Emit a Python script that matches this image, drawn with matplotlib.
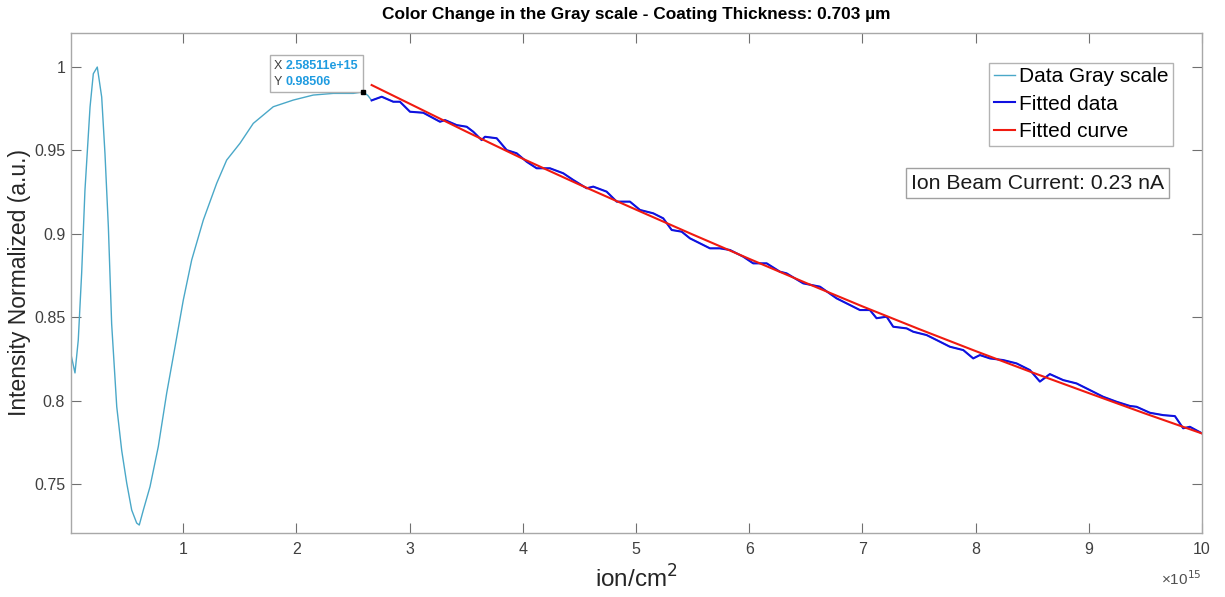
import numpy as np
import matplotlib
matplotlib.use("Agg")
import matplotlib.pyplot as plt
from matplotlib.offsetbox import TextArea, HPacker, VPacker, AnnotationBbox

plt.rcParams["font.family"] = ["Liberation Sans", "DejaVu Sans"]

# Fluence in units of 1e15 ion/cm^2, normalized gray-scale intensity
early_x = [0.005, 0.043, 0.072, 0.102, 0.131, 0.176, 0.205, 0.240, 0.279, 0.308,
           0.338, 0.367, 0.412, 0.456, 0.500, 0.544, 0.588, 0.611, 0.647, 0.706,
           0.779, 0.853, 0.927, 1.000, 1.074, 1.177, 1.295, 1.383, 1.501, 1.618,
           1.795, 1.972, 2.148, 2.325, 2.502, 2.585, 2.630]
early_y = [0.8285, 0.8166, 0.8363, 0.8765, 0.9260, 0.9760, 0.9960, 1.0000, 0.9820, 0.9480,
           0.9040, 0.8460, 0.7963, 0.7700, 0.7506, 0.7344, 0.7266, 0.7254, 0.7344, 0.7484,
           0.7724, 0.8044, 0.8323, 0.8603, 0.8843, 0.9083, 0.9303, 0.9442, 0.9543, 0.9662,
           0.9762, 0.9802, 0.9832, 0.9842, 0.9842, 0.98506, 0.9830]

# Portion of the data used for the fit
fit_x = [2.664, 2.753, 2.855, 2.914, 3.003, 3.120, 3.268, 3.312, 3.415, 3.504,
         3.562, 3.636, 3.665, 3.769, 3.857, 3.945, 4.034, 4.122, 4.239, 4.357,
         4.445, 4.564, 4.622, 4.740, 4.829, 4.946, 5.035, 5.152, 5.240, 5.315,
         5.403, 5.476, 5.653, 5.741, 5.830, 5.947, 6.035, 6.154, 6.271, 6.330,
         6.477, 6.625, 6.772, 6.890, 6.978, 7.066, 7.125, 7.214, 7.272, 7.391,
         7.449, 7.567, 7.656, 7.773, 7.891, 7.979, 8.038, 8.127, 8.244, 8.362,
         8.480, 8.568, 8.656, 8.774, 8.892, 9.010, 9.127, 9.246, 9.363, 9.422,
         9.540, 9.657, 9.761, 9.834, 9.893, 10.000]
fit_y = [0.9800, 0.9822, 0.9792, 0.9792, 0.9732, 0.9726, 0.9672, 0.9682, 0.9652, 0.9642,
         0.9612, 0.9562, 0.9582, 0.9573, 0.9502, 0.9483, 0.9432, 0.9393, 0.9393, 0.9363,
         0.9323, 0.9273, 0.9283, 0.9253, 0.9193, 0.9193, 0.9143, 0.9123, 0.9093, 0.9023,
         0.9013, 0.8973, 0.8913, 0.8913, 0.8903, 0.8863, 0.8823, 0.8823, 0.8773, 0.8763,
         0.8703, 0.8683, 0.8613, 0.8573, 0.8543, 0.8543, 0.8494, 0.8503, 0.8443, 0.8433,
         0.8413, 0.8393, 0.8363, 0.8323, 0.8303, 0.8253, 0.8273, 0.8253, 0.8243, 0.8223,
         0.8183, 0.8114, 0.8159, 0.8123, 0.8103, 0.8063, 0.8023, 0.7993, 0.7968, 0.7963,
         0.7927, 0.7913, 0.7907, 0.7834, 0.7843, 0.7804]

# Fitted curve
curve_x = [2.664, 3.0, 3.5, 4.0, 4.5, 5.0, 5.5, 6.0, 6.5, 7.0, 7.5, 8.0, 8.5, 9.0, 9.5, 10.0]
curve_y = [0.9892, 0.9780, 0.9613, 0.9450, 0.9295, 0.9145, 0.8996, 0.8850, 0.8706,
           0.8565, 0.8429, 0.8297, 0.8169, 0.8045, 0.7922, 0.7803]

tip_x, tip_y = 2.58511, 0.98506

x_ticks = [1, 2, 3, 4, 5, 6, 7, 8, 9, 10]
y_ticks = [0.75, 0.8, 0.85, 0.9, 0.95, 1.0]
y_ticklabels = ["0.75", "0.8", "0.85", "0.9", "0.95", "1"]

all_x = early_x + fit_x
all_y = early_y + fit_y

fig = plt.figure(figsize=(12.25, 5.97), dpi=100)
ax = fig.add_axes([0.0577, 0.1077, 0.9812 - 0.0577, 0.9447 - 0.1077])

ax.plot(all_x, all_y, color="#4aa8c8", lw=1.0, label="Data Gray scale")
ax.plot(fit_x, fit_y, color="#1010e0", lw=1.5, label="Fitted data")
ax.plot(curve_x, curve_y, color="#f01a10", lw=1.5, label="Fitted curve")
ax.plot([tip_x], [tip_y], marker="s", ms=2.5, color="black", zorder=5)

ax.set_xlim(0.005, 10.0)
ax.set_ylim(0.7208, 1.0204)
ax.set_xticks(x_ticks)
ax.set_xticklabels([str(t) for t in x_ticks])
ax.set_yticks(y_ticks)
ax.set_yticklabels(y_ticklabels)

spine_c = "#a8a8a8"
for s in ax.spines.values():
    s.set_color(spine_c)
    s.set_linewidth(1.0)
ax.tick_params(direction="in", length=7, width=0.8, color="#707070",
               labelsize=11.5, labelcolor="#404040", top=True, right=True)
ax.tick_params(axis="x", pad=7)
ax.tick_params(axis="y", pad=4)

ax.set_xlabel("ion/cm$^2$", fontsize=17.5, color="#262626", labelpad=6)
ax.set_ylabel("Intensity Normalized (a.u.)", fontsize=16.5, color="#262626", labelpad=2)
ax.set_title("Color Change in the Gray scale - Coating Thickness: 0.703 \u00b5m",
             fontsize=12.4, fontweight="bold", pad=10)

ax.text(1.0, -0.092, "\u00d710$^{15}$", transform=ax.transAxes, ha="right", va="center",
        fontsize=11, color="#505050")

leg = ax.legend(loc="upper right", bbox_to_anchor=(0.9744, 0.9406), fontsize=15,
                frameon=True, fancybox=False, handlelength=1.0, handletextpad=0.2,
                borderpad=0.22, labelspacing=0.4, borderaxespad=0.0)
leg.get_frame().set_edgecolor("#a0a0a0")
leg.get_frame().set_linewidth(1.0)

ax.text(0.7428, 0.6998, "Ion Beam Current: 0.23 nA", transform=ax.transAxes,
        ha="left", va="center", fontsize=15.3, color="#1a1a1a",
        bbox=dict(boxstyle="square,pad=0.25", fc="white", ec="#a0a0a0", lw=1.0))

# Data tip box
val_c = "#1e9be0"
row_x = HPacker(children=[TextArea("X ", textprops=dict(color="#404040", fontsize=9)),
                          TextArea("2.58511e+15", textprops=dict(color=val_c, fontsize=9,
                                                                 fontweight="bold"))],
                align="baseline", pad=0, sep=0)
row_y = HPacker(children=[TextArea("Y ", textprops=dict(color="#404040", fontsize=9)),
                          TextArea("0.98506", textprops=dict(color=val_c, fontsize=9,
                                                             fontweight="bold"))],
                align="baseline", pad=0, sep=0)
tip_box = VPacker(children=[row_x, row_y], align="left", pad=0, sep=3)
ab = AnnotationBbox(tip_box, (tip_x, tip_y), xybox=(-3, 3), xycoords="data",
                    boxcoords="offset points", box_alignment=(1.0, 0.0), frameon=True,
                    pad=0.35, bboxprops=dict(boxstyle="square", fc="white", ec="#b0b0b0", lw=1.0))
ax.add_artist(ab)

fig.savefig("out.png", dpi=100)
